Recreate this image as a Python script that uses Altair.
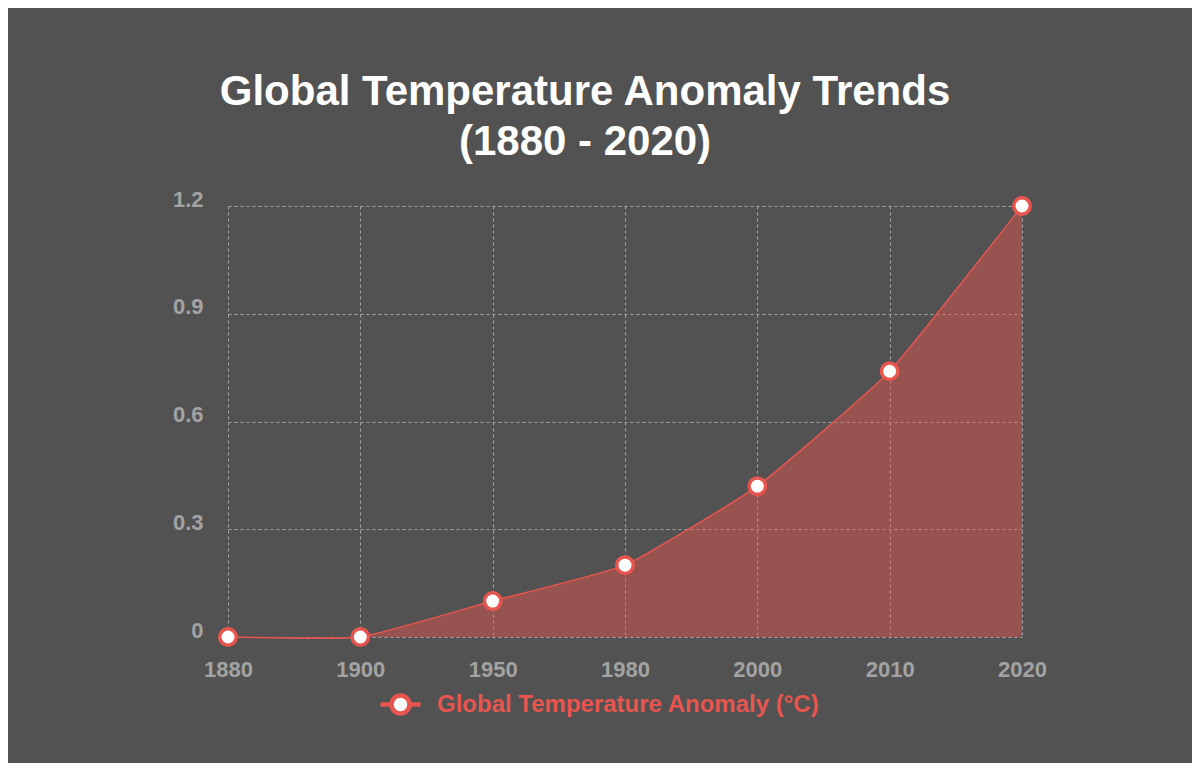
import altair as alt
import pandas as pd

years = ["1880", "1900", "1950", "1980", "2000", "2010", "2020"]
anomaly = [0.0, 0.0, 0.1, 0.2, 0.42, 0.74, 1.2]
series_name = "Global Temperature Anomaly (°C)"
y_ticks = [0, 0.3, 0.6, 0.9, 1.2]

df = pd.DataFrame({"year": years, "value": anomaly, "series": [series_name] * len(years)})

RED = "#e8554e"
BG = "#525252"
GRID = "#a6a6a6"
FONT = "Liberation Sans"

x = alt.X("year:O", sort=years, scale=alt.Scale(type="point", padding=0),
          axis=alt.Axis(title=None, labelAngle=0, labelPadding=22, grid=True))
y = alt.Y("value:Q", scale=alt.Scale(domain=[0, 1.2], nice=False),
          axis=alt.Axis(title=None, values=y_ticks, format="~g", labelPadding=25,
                        labelOffset=-7, grid=True))

base = alt.Chart(df).encode(x=x, y=y)

area = base.mark_area(interpolate="cardinal", tension=0.6, color=RED, opacity=0.45)
line = base.mark_line(interpolate="cardinal", tension=0.6, color=RED, strokeWidth=1.5)
points = base.mark_point(filled=False, fill="white", fillOpacity=1, opacity=1,
                         size=270, strokeWidth=3.5).encode(
    stroke=alt.Stroke("series:N", scale=alt.Scale(domain=[series_name], range=[RED]),
                      legend=alt.Legend(title=None, orient="none", legendX=150, legendY=476,
                                        symbolType="M-1,0L-0.45,0M0.45,0L1,0M0.45,0A0.45,0.45,0,1,1,-0.45,0A0.45,0.45,0,1,1,0.45,0Z",
                                        symbolSize=1600, symbolStrokeWidth=4.5,
                                        symbolFillColor="white", symbolStrokeColor=RED,
                                        labelColor=RED, labelFont=FONT, labelFontSize=24,
                                        labelFontWeight="bold", labelOffset=14, labelLimit=0))
)

chart = (area + line + points).properties(
    width=794,
    height=431,
    background=BG,
    padding={"left": 220, "top": 198, "right": 170, "bottom": 126},
    autosize=alt.AutoSizeParams(type="none"),
    title=alt.TitleParams(
        text=["Global Temperature Anomaly Trends", "(1880 - 2020)"],
        color="white", font=FONT, fontSize=42, fontWeight="bold",
        anchor="middle", dx=-40, offset=24, lineHeight=50,
    ),
).configure_view(stroke=None).configure_axis(
    domain=False, ticks=False, gridColor=GRID, gridDash=[3, 3], gridWidth=1,
    labelColor="#a3a3a3", labelFont=FONT, labelFontSize=22, labelFontWeight="bold",
)

chart.save("out.html", embed_options={"renderer": "svg", "actions": False})
